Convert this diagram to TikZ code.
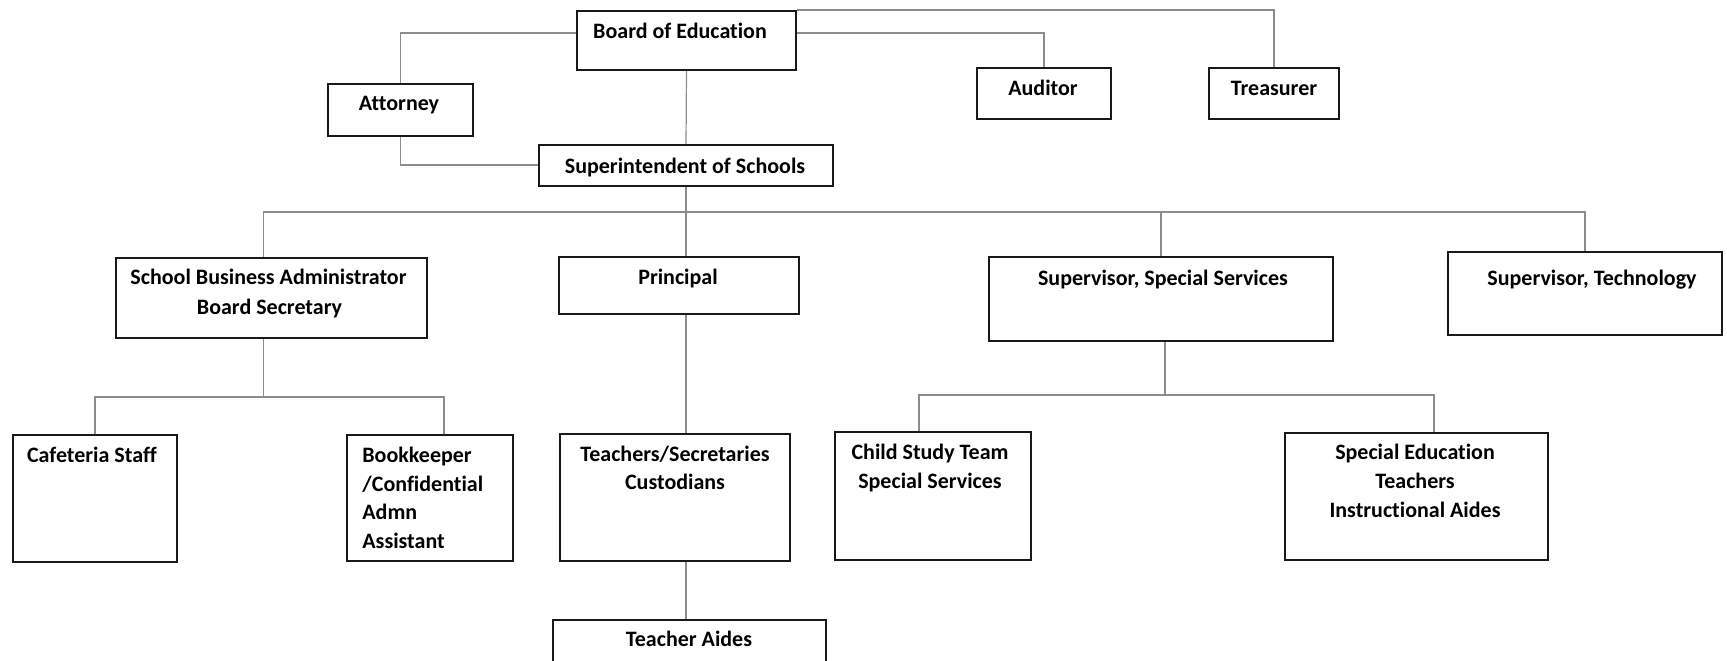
\documentclass[tikz,border=0pt]{standalone}
\usepackage{fontspec}
\setmainfont{Carlito}[Ligatures={NoCommon,NoRare}]
% a box given by its corners (x1,y1) and (x2,y2), in picture units
\newcommand{\orgbox}[5]{%
  \node[box, minimum width={(#4-(#2))*0.5pt}, minimum height={(#5-(#3))*0.5pt}] (#1) at (#2,#3) {};}
\begin{document}
\begin{tikzpicture}[x=0.5pt,y=-0.5pt,
  box/.style={draw=black!90, line width=1pt, rectangle, inner sep=0pt, anchor=north west},
  lbl/.style={font=\fontsize{11}{14}\selectfont\bfseries, inner sep=0pt, anchor=base, text=black},
  lblw/.style={lbl, anchor=base west},
  link/.style={draw=black!45, line width=0.6pt}]

\path[use as bounding box, clip] (0,0) rectangle (1727,660);
\fill[white] (0,0) rectangle (1727,660);

% ---- boxes ----
\orgbox{boe}{576}{10}{795}{69}
\orgbox{att}{327}{83}{472}{135}
\orgbox{aud}{976}{67}{1110}{118}
\orgbox{tre}{1208}{67}{1338}{118}
\orgbox{sup}{538}{144}{832}{185}
\orgbox{sba}{115}{257}{426}{337}
\orgbox{pri}{558}{256}{798}{313}
\orgbox{sss}{988}{256}{1332}{340}
\orgbox{tec}{1447}{251}{1721}{334}
\orgbox{caf}{12}{434}{176}{561}
\orgbox{bkp}{346}{434}{512}{560}
\orgbox{tch}{559}{433}{789}{560}
\orgbox{cst}{834}{431}{1030}{559}
\orgbox{sed}{1284}{432}{1547}{559}
\orgbox{tai}{552}{619}{825}{700}

% ---- labels ----
\node[lbl] (boe-t) at (680,38) {Board of Education};
\node[lbl] (att-t) at (399,110) {Attorney};
\node[lbl] (aud-t) at (1043,95) {Auditor};
\node[lbl] (tre-t) at (1274,95) {Treasurer};
\node[lbl] (sup-t) at (685,173) {Superintendent of Schools};
\node[lbl] (sba-t1) at (268.5,284) {School Business Administrator};
\node[lbl] (sba-t2) at (269.5,314) {Board Secretary};
\node[lbl] (pri-t) at (678,284) {Principal};
\node[lbl] (sss-t) at (1163,285) {Supervisor, Special Services};
\node[lbl] (tec-t) at (1592,285) {Supervisor, Technology};
\node[lbl] (caf-t) at (92,462) {Cafeteria Staff};
\node[lblw] (bkp-t1) at (362,462) {Bookkeeper};
\node[lblw] (bkp-t2) at (362,491) {/Confidential};
\node[lblw] (bkp-t3) at (362,519) {Admn};
\node[lblw] (bkp-t4) at (362,548) {Assistant};
\node[lbl] (tch-t1) at (675,461) {Teachers/Secretaries};
\node[lbl] (tch-t2) at (675,489) {Custodians};
\node[lbl] (cst-t1) at (930,459) {Child Study Team};
\node[lbl] (cst-t2) at (930,488) {Special Services};
\node[lbl] (sed-t1) at (1415,459) {Special Education};
\node[lbl] (sed-t2) at (1415,488) {Teachers};
\node[lbl] (sed-t3) at (1415,517) {Instructional Aides};
\node[lbl] (tai-t) at (689,646) {Teacher Aides};

% ---- junction points of the connector buses ----
\coordinate (hub) at (685,212);
\coordinate (hubB) at (263,397);
\coordinate (hubC) at (1164,395);
\coordinate (sbaTop) at ([xshift=-4pt]sba.north);
\coordinate (sbaBot) at ([xshift=-4pt]sba.south);
\coordinate (bkpTop) at ([xshift=7pt]bkp.north);
\coordinate (sssBot) at ([xshift=2pt]sss.south);
\coordinate (cstTop) at ([xshift=-7pt]cst.north);
\coordinate (sedTop) at ([xshift=8.75pt]sed.north);

% ---- connectors ----
\draw[link] (boe.west |- 0,33) -| (att.north);
\draw[link] (att.south) |- (sup.west |- 0,165);
\draw[link] (boe.south) -- (sup.north);
\draw[link] (boe.east |- 0,33) -| (aud.north);
\draw[link] (boe.north east) -| (tre.north);

\draw[link] (sup.south) -- (sup.south |- pri.north);
\draw[link] (sbaTop) |- (tec.north |- hub) -- (tec.north);
\draw[link] (sss.north) -- (sss.north |- hub);

\draw[link] (sbaBot) -- (sbaBot |- hubB);
\draw[link] (caf.north) |- (bkpTop |- hubB) -- (bkpTop);

\draw[link] (sup.south |- pri.south) -- (sup.south |- tch.north);
\draw[link] (sup.south |- tch.south) -- (sup.south |- tai.north);

\draw[link] (sssBot) -- (sssBot |- hubC);
\draw[link] (cstTop) |- (sedTop |- hubC) -- (sedTop);
\end{tikzpicture}
\end{document}
